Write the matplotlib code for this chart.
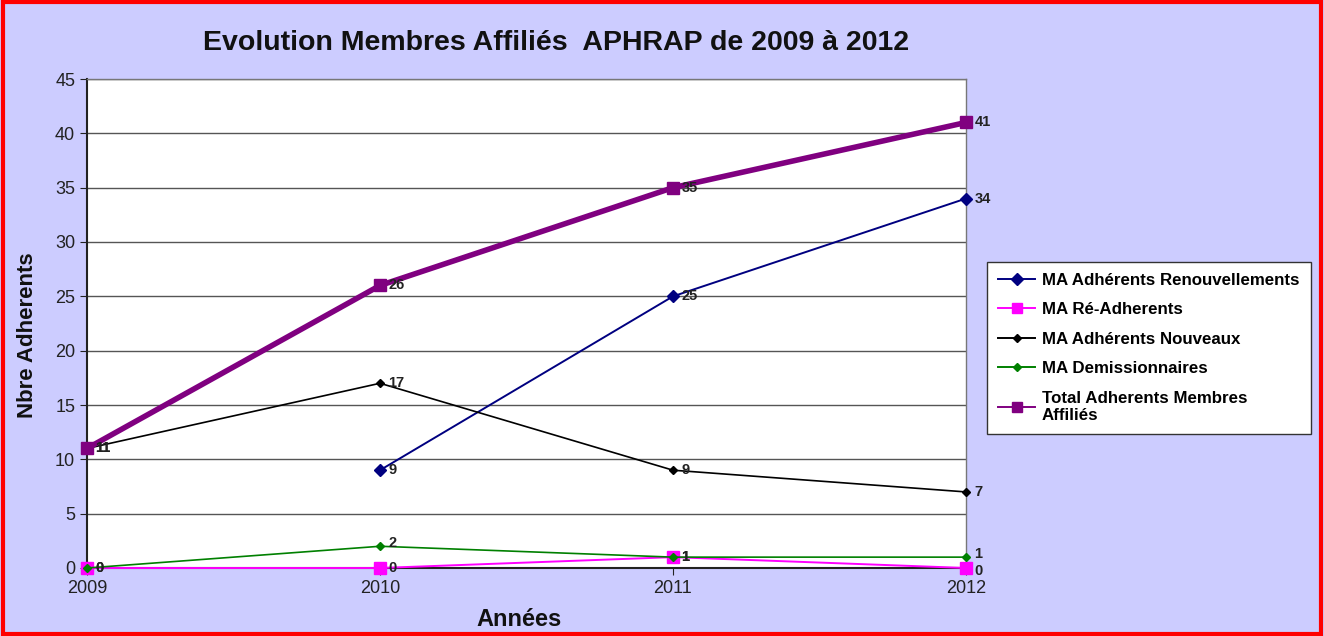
import matplotlib
matplotlib.use("Agg")
import matplotlib.pyplot as plt
import numpy as np
from matplotlib.patches import Rectangle
from matplotlib.lines import Line2D

years = [2009, 2010, 2011, 2012]
renouvellements = [np.nan, 9, 25, 34]
re_adherents = [0, 0, 1, 0]
nouveaux = [11, 17, 9, 7]
demissionnaires = [0, 2, 1, 1]
total = [11, 26, 35, 41]

labels = ["MA Adhérents Renouvellements", "MA Ré-Adherents", "MA Adhérents Nouveaux",
          "MA Demissionnaires", "Total Adherents Membres\nAffiliés"]

plt.rcParams['font.family'] = ['Liberation Sans', 'DejaVu Sans']

fig = plt.figure(figsize=(13.24, 6.36), dpi=100, facecolor='#CCCCFF')
ax = fig.add_axes([87/1324, 1-568/636, (966-87)/1324, (568-79)/636])
ax.set_facecolor('white')

styles = [
    (renouvellements, '#000080', 'D', 6, 1.4),
    (re_adherents, '#FF00FF', 's', 8, 1.4),
    (nouveaux, 'black', 'D', 4.5, 1.2),
    (demissionnaires, '#008000', 'D', 4.5, 1.2),
    (total, '#800080', 's', 8, 4),
]
zs = [4, 3, 4, 4, 5]
for (vals, c, m, ms, lw), z in zip(styles, zs):
    ax.plot(years, vals, color=c, marker=m, ms=ms, lw=lw, zorder=z, clip_on=False)

def annotate(vals, dys=(0, 0, 0, 0)):
    for x, v, dy in zip(years, vals, dys):
        if np.isnan(v):
            continue
        ax.annotate(f"{int(v)}", (x, v), xytext=(6, dy), textcoords='offset points',
                    va='center', ha='left', fontsize=10.5, fontweight='bold', color='#222222',
                    annotation_clip=False, zorder=6)

annotate(renouvellements)
annotate(re_adherents, (0, 0, 0, -2))
annotate(nouveaux)
annotate(demissionnaires, (0, 2, 0, 2.5))
annotate(total)

ax.set_xlim(2009, 2012)
ax.set_ylim(0, 45)
ax.set_yticks(range(0, 46, 5))
ax.set_xticks(years)
ax.yaxis.grid(True, color='#555555', lw=1)
ax.set_axisbelow(True)
ax.tick_params(axis='both', labelsize=13, colors='#222222', length=5, direction='out')
for sp in ['left', 'bottom']:
    ax.spines[sp].set_color('#222222')
    ax.spines[sp].set_linewidth(1.5)
for sp in ['top', 'right']:
    ax.spines[sp].set_color('#777777')
    ax.spines[sp].set_linewidth(1)

fig.text(556/1324, 1-43/636, "Evolution Membres Affiliés  APHRAP de 2009 à 2012",
         ha='center', va='center', fontsize=20.5, fontweight='bold', color='#111111')
fig.text(28/1324, 1-335/636, "Nbre Adherents", rotation=90, ha='center', va='center',
         fontsize=16, fontweight='bold', color='#111111')
fig.text(519/1324, 1-620/636, "Années", ha='center', va='center',
         fontsize=17, fontweight='bold', color='#111111')

handles = [Line2D([], [], color=c, marker=m, ms=min(ms, 7), lw=1.4)
           for (vals, c, m, ms, lw) in styles]
leg = fig.legend(handles=handles, labels=labels, loc='upper left',
                 bbox_to_anchor=(987/1324, 1-262/636), frameon=True, fancybox=False,
                 edgecolor='#333333', facecolor='white', prop={'size': 12.2, 'weight': 'bold'},
                 handlelength=2.2, handletextpad=0.4, labelspacing=0.85, borderpad=0.65,
                 borderaxespad=0, framealpha=1)
leg.get_frame().set_linewidth(1)

fig.patches.append(Rectangle((0.002, 0.003), 0.996, 0.994, transform=fig.transFigure,
                             fill=False, edgecolor='red', lw=3))

fig.savefig("out.png", dpi=100, facecolor=fig.get_facecolor())
